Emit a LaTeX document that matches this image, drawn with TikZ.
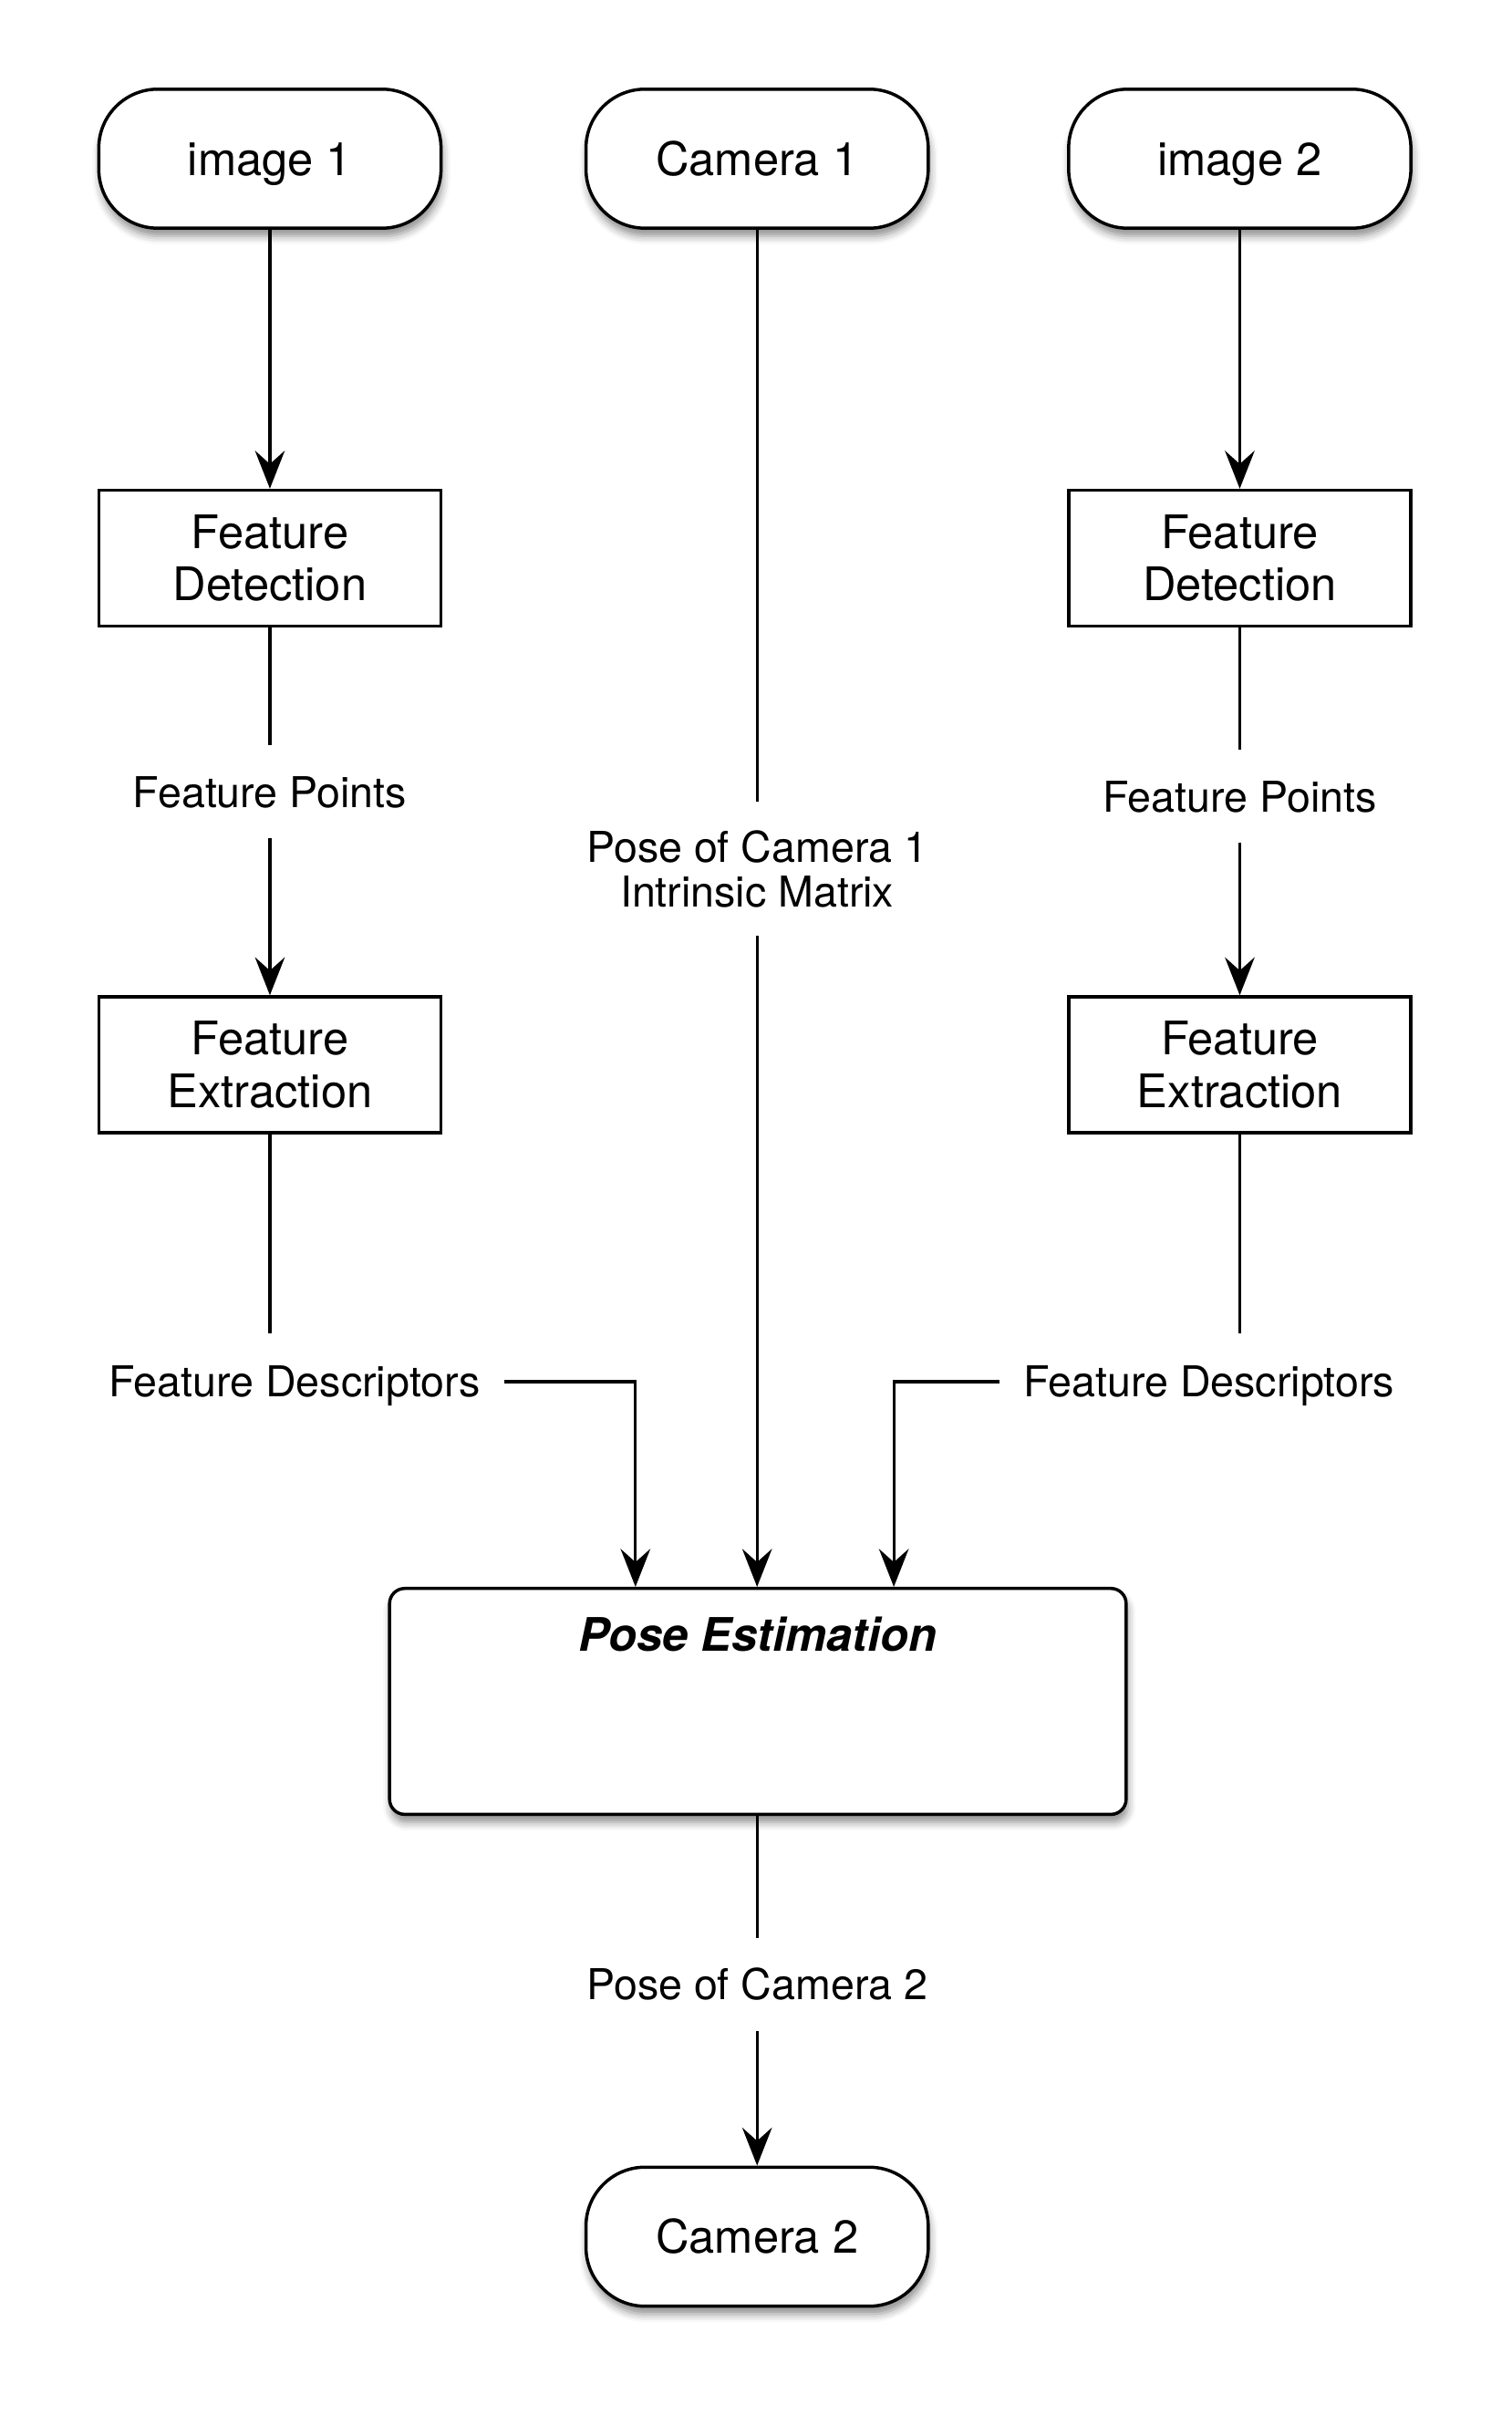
\documentclass[tikz,border=0pt]{standalone}
\usepackage{fontspec}
\setmainfont{TeX Gyre Heros}
\usetikzlibrary{arrows.meta,shadows.blur}

\tikzset{
  pill/.style={draw, line width=1.2pt, fill=white, rounded corners=0.78cm,
    minimum width=4.53cm, minimum height=1.84cm, inner sep=0pt,
    text height=12.5pt, text depth=0pt,
    font=\fontsize{17.4}{20}\selectfont,
    blur shadow={shadow xshift=0.6pt, shadow yshift=-3pt, shadow blur radius=3pt, shadow opacity=45}},
  stepbox/.style={draw, line width=1.2pt, fill=white, align=center,
    minimum width=4.53cm, minimum height=1.8cm, inner sep=0pt,
    font=\fontsize{17.4}{19.7}\selectfont},
  posebox/.style={draw, line width=1.2pt, fill=white, rounded corners=0.2cm,
    minimum width=9.75cm, minimum height=2.99cm, inner sep=0pt,
    blur shadow={shadow xshift=0.6pt, shadow yshift=-3pt, shadow blur radius=3pt, shadow opacity=45}},
  datalabel/.style={align=center, inner xsep=0.31cm, inner ysep=0pt,
    minimum height=1.22cm, font=\fontsize{16}{16.8}\selectfont},
  onelabel/.style={datalabel, text height=11.5pt, text depth=0pt},
  arr/.style={line width=1.1pt, -{Stealth[length=14.3pt, width=11.2pt, inset=5pt]}},
  ln/.style={line width=1.1pt}
}

\begin{document}
\begin{tikzpicture}[x=0.02cm, y=-0.02cm]
% inputs
\node[pill] (img1) at (178.6,105) {image 1};
\node[pill] (cam1) at (501,105) {Camera 1};
\node[pill] (img2) at (820.4,105) {image 2};
% left branch
\node[stepbox] (fd1) at (178.6,369.4) {Feature\\Detection};
\node[onelabel] (fp1) at (178.6,524) {Feature Points};
\node[stepbox] (fe1) at (178.6,704.6) {Feature\\Extraction};
\node[onelabel, minimum height=1.27cm] (fdsc1) at (194.9,914.3) {Feature Descriptors};
% right branch
\node[stepbox] (fd2) at (820.4,369.4) {Feature\\Detection};
\node[onelabel] (fp2) at (820.4,527) {Feature Points};
\node[stepbox] (fe2) at (820.4,704.6) {Feature\\Extraction};
\node[onelabel, minimum height=1.27cm] (fdsc2) at (800,914.3) {Feature Descriptors};
% middle
\node[datalabel, minimum height=1.76cm] (cpose) at (501,575) {Pose of Camera 1\\Intrinsic Matrix};
\node[posebox] (pose) at (501.5,1125.8) {};
\node[font=\fontsize{17.4}{20}\selectfont\bfseries\itshape, text height=12.5pt, text depth=0pt] (posetitle) at (501.5,1081.6) {Pose Estimation};
\node[onelabel] (cp2) at (501,1313) {Pose of Camera 2};
\node[pill] (cam2) at (501,1480) {Camera 2};

\draw[arr] (img1) -- (fd1);
\draw[ln] (fd1) -- (fp1);
\draw[arr] (fp1) -- (fe1);
\draw[ln] (fe1) -- (fe1 |- fdsc1.north);
\draw[arr] (fdsc1.east) -| ([xshift=-1.62cm]pose.north);

\draw[arr] (img2) -- (fd2);
\draw[ln] (fd2) -- (fp2);
\draw[arr] (fp2) -- (fe2);
\draw[ln] (fe2) -- (fe2 |- fdsc2.north);
\draw[arr] (fdsc2.west) -| ([xshift=1.8cm]pose.north);

\draw[ln] (cam1) -- (cpose);
\draw[arr] (cpose.south) -- (cpose.south |- pose.north);
\draw[ln] (pose.south -| cp2) -- (cp2);
\draw[arr] (cp2) -- (cam2);

\pgfresetboundingbox
\useasboundingbox (0,0) rectangle (1000,1598);
\end{tikzpicture}
\end{document}
